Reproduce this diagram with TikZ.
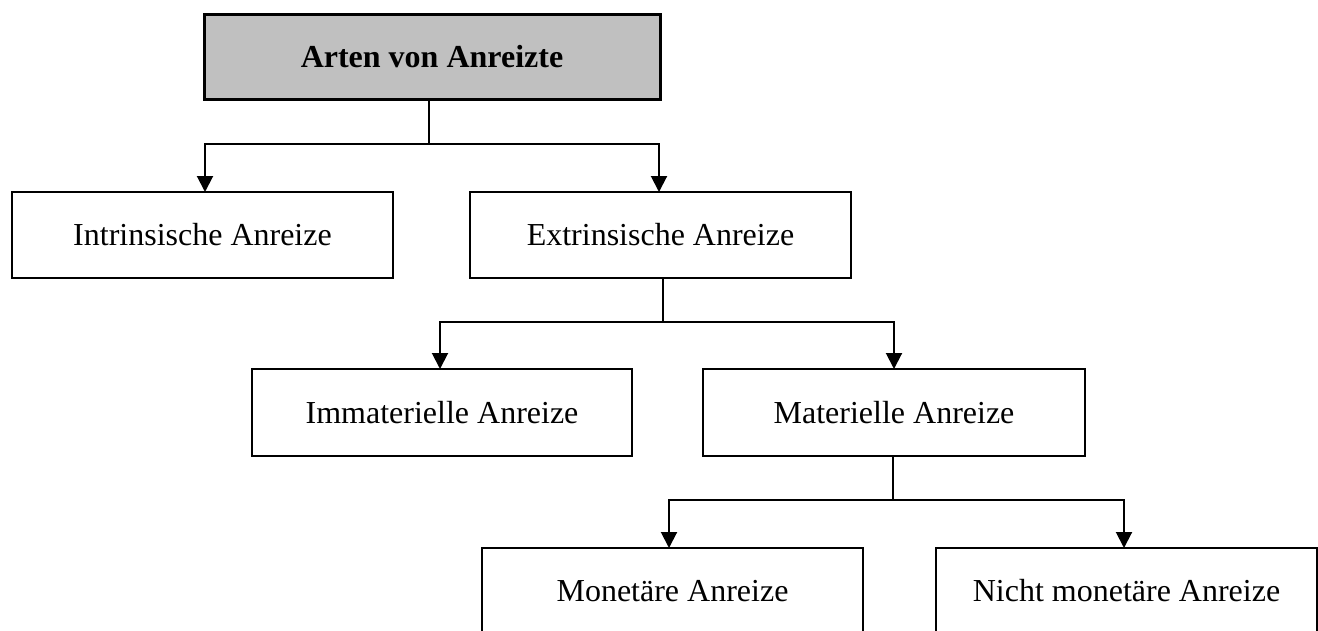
\documentclass[tikz,border=0pt]{standalone}
\usepackage{fontspec}
\setmainfont{Liberation Serif}
\usetikzlibrary{arrows.meta}
\definecolor{headgray}{HTML}{C0C0C0}
\tikzset{
  box/.style={draw, line width=1.5pt, inner sep=0pt, outer sep=0pt,
    font=\fontsize{32}{38}\selectfont},
  headbox/.style={box, fill=headgray, line width=3pt,
    font=\bfseries\fontsize{32}{38}\selectfont},
  link/.style={line width=2pt},
  arr/.style={link, -{Triangle[length=16pt,width=16pt]}}
}
\begin{document}
\begin{tikzpicture}[x=1pt, y=-1pt]
  \useasboundingbox (0,0) rectangle (1318,630);
  \clip (0,0) rectangle (1318,630);

  % boxes
  \node[headbox, minimum width=456pt, minimum height=85pt] (head) at (432,56.5) {Arten von Anreizte};
  \node[box, minimum width=381pt, minimum height=86pt] (intr) at (202.5,235) {Intrinsische Anreize};
  \node[box, minimum width=381pt, minimum height=86pt] (extr) at (660.5,235) {Extrinsische Anreize};
  \node[box, minimum width=380pt, minimum height=87pt] (imm) at (442,412.5) {Immaterielle Anreize};
  \node[box, minimum width=382pt, minimum height=87pt] (mat) at (894,412.5) {Materielle Anreize};
  \node[box, minimum width=381pt, minimum height=86pt] (mon) at (672.5,591) {Monetäre Anreize};
  \node[box, minimum width=381pt, minimum height=86pt] (nicht) at (1126.5,591) {Nicht monetäre Anreize};

  % branch points
  \coordinate (j1) at (429,144);
  \coordinate (j2) at (663,322);
  \coordinate (j3) at (893,500);

  % connectors
  \draw[link] (head.south -| j1) -- (j1);
  \draw[arr] (j1) -| ([xshift=2.5pt]intr.north);
  \draw[arr] (j1) -| ([xshift=-1.5pt]extr.north);

  \draw[link] (extr.south -| j2) -- (j2);
  \draw[arr] (j2) -| ([xshift=-2pt]imm.north);
  \draw[arr] (j2) -| (mat.north);

  \draw[link] (mat.south -| j3) -- (j3);
  \draw[arr] (j3) -| ([xshift=-3.5pt]mon.north);
  \draw[arr] (j3) -| ([xshift=-2.5pt]nicht.north);
\end{tikzpicture}
\end{document}
